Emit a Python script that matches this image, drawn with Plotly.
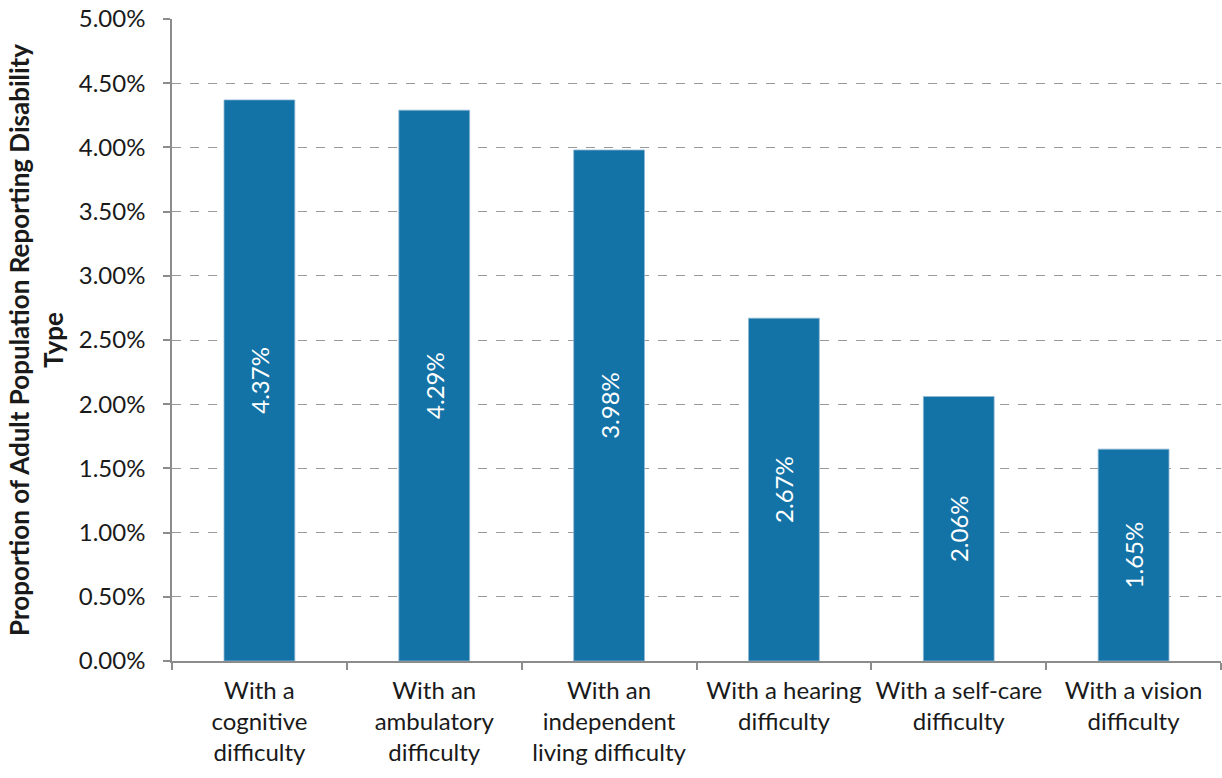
import plotly.graph_objects as go

categories = ["cognitive", "ambulatory", "independent", "hearing", "selfcare", "vision"]
tick_labels = [
    "With a<br>cognitive<br>difficulty",
    "With an<br>ambulatory<br>difficulty",
    "With an<br>independent<br>living difficulty",
    "With a hearing<br>difficulty",
    "With a self-care<br>difficulty",
    "With a vision<br>difficulty",
]
values = [4.37, 4.29, 3.98, 2.67, 2.06, 1.65]
value_labels = ["4.37%", "4.29%", "3.98%", "2.67%", "2.06%", "1.65%"]
y_ticks = [0, 0.5, 1.0, 1.5, 2.0, 2.5, 3.0, 3.5, 4.0, 4.5, 5.0]
y_tick_labels = ["0.00%", "0.50%", "1.00%", "1.50%", "2.00%", "2.50%", "3.00%",
                 "3.50%", "4.00%", "4.50%", "5.00%"]

FONT = "Lato"

fig = go.Figure(go.Bar(
    x=categories,
    y=values,
    width=0.405,
    marker=dict(color="#1473a6", line=dict(color="#8fb8d4", width=0.8)),
    text=value_labels,
    textposition="inside",
    textangle=-90,
    insidetextanchor="middle",
    insidetextfont=dict(family=FONT, size=24, color="white"),
    constraintext="none",
    hoverinfo="skip",
))

fig.update_layout(
    width=1222, height=778,
    margin=dict(l=172, r=1, t=19, b=117),
    paper_bgcolor="white", plot_bgcolor="white",
    font=dict(family=FONT, size=24, color="#1a1a1a"),
    showlegend=False,
    bargap=0.6,
)
fig.update_xaxes(
    tickmode="array", tickvals=categories, ticktext=tick_labels,
    tickangle=0, automargin=False, ticklabelstandoff=7,
    tickson="boundaries", ticks="outside", ticklen=7, tickcolor="#8c8c8c", tickwidth=1.5,
    showline=True, linecolor="#8c8c8c", linewidth=1.5,
    tickfont=dict(family=FONT, size=24, color="#1a1a1a"),
    showgrid=False,
)
fig.update_yaxes(
    range=[0, 5.0], tickmode="array", tickvals=y_ticks, ticktext=y_tick_labels,
    automargin=False,
    ticks="outside", ticklen=7, tickcolor="#8c8c8c", tickwidth=1.5,
    ticklabelstandoff=13,
    showline=True, linecolor="#8c8c8c", linewidth=1.5,
    showgrid=True, gridcolor="#9a9a9a", griddash="dash", gridwidth=1,
    zeroline=False,
    tickfont=dict(family=FONT, size=24, color="#1a1a1a"),
    title=dict(text="<b>Proportion of Adult Population Reporting Disability<br>Type</b>",
               font=dict(family=FONT, size=26, color="#1a1a1a"), standoff=8),
)

fig.write_html("out.html")
